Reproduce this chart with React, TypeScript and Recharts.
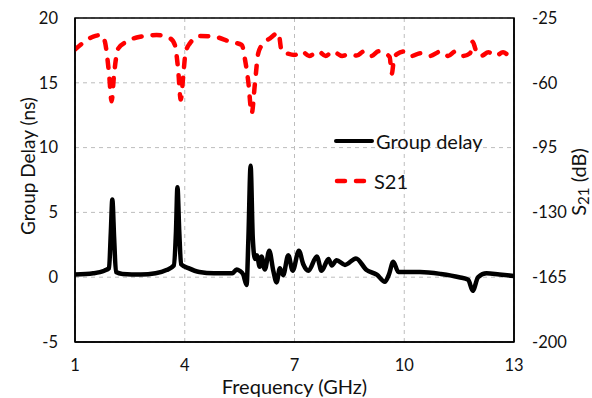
import {
  ComposedChart,
  Line,
  XAxis,
  YAxis,
  CartesianGrid,
  ReferenceArea,
} from 'recharts'

// ---- data ----
const freqTicks = [1, 4, 7, 10, 13]
const delayTicks = [-5, 0, 5, 10, 15, 20]
const s21Ticks = [-200, -165, -130, -95, -60, -25]

const delayFreq = [
  1.0, 1.5, 1.8, 1.93, 1.98, 2.02, 2.07, 2.12, 2.3, 2.8, 3.2, 3.5, 3.7, 3.76, 3.8, 3.85, 3.9, 4.1,
  4.4, 4.8, 5.3, 5.42, 5.5, 5.6, 5.69, 5.74, 5.8, 5.86, 5.92, 5.97, 6.05, 6.1, 6.19, 6.31, 6.42,
  6.51, 6.6, 6.69, 6.83, 6.95, 7.12, 7.24, 7.38, 7.61, 7.74, 7.93, 8.02, 8.15, 8.38, 8.68, 8.97,
  9.25, 9.47, 9.58, 9.7, 9.84, 10.43, 11.0, 11.5, 11.75, 11.87, 12.02, 12.25, 12.6, 13.0,
]
const delayNs = [
  0.2, 0.3, 0.5, 0.7, 3.5, 6.0, 3.0, 0.4, 0.25, 0.2, 0.3, 0.55, 0.9, 3.5, 6.95, 3.5, 1.0, 0.7,
  0.4, 0.3, 0.3, 0.6, 0.5, 0.2, -0.6, 3.0, 8.6, 3.0, 1.4, 1.7, 0.8, 1.6, 0.6, 2.05, 0.5,
  -0.4, 0.7, 0.15, 1.7, 0.5, 2.05, 1.0, 0.5, 1.6, 0.5, 1.4, 0.9, 1.3, 0.95, 1.45, 0.55,
  0.2, -0.35, 0.2, 1.2, 0.4, 0.4, 0.25, 0.0, -0.2, -1.05, 0.0, 0.3, 0.2, 0.1,
]

const s21Freq = [
  1.0, 1.25, 1.5, 1.73, 1.82, 1.93, 2.0, 2.07, 2.18, 2.41, 2.78, 3.23, 3.6, 3.73, 3.82, 3.89, 3.96,
  4.02, 4.14, 4.42, 4.78, 5.24, 5.56, 5.65, 5.74, 5.83, 5.92, 6.01, 6.15, 6.33, 6.56, 6.65, 6.79,
  7.0, 7.2, 7.4, 7.65, 7.85, 8.05, 8.3, 8.5, 8.7, 8.9, 9.1, 9.3, 9.5, 9.6, 9.66, 9.72, 9.8, 10.0,
  10.2, 10.45, 10.7, 11.0, 11.2, 11.4, 11.6, 11.8, 11.87, 11.95, 12.1, 12.3, 12.5, 12.7, 12.9, 13.0,
]
const s21Db = [
  -42, -38, -35, -34.2, -38, -55, -70, -55, -41.5, -37.8, -35.1, -34.2, -36, -39.6, -53, -69, -56,
  -44, -38.7, -34.7, -35, -37.8, -39.6, -47.7, -60, -76.5, -60, -44, -38.7, -36, -33, -43, -44.1,
  -45, -43, -45.5, -43, -45.5, -43, -45.5, -44.5, -45.3, -43, -45.5, -43, -44.5, -46, -55, -47, -44.5, -43,
  -45.5, -44, -45.5, -43, -45.5, -43, -45.5, -44, -37.8, -42, -45.5, -43.5, -45.5, -43.5, -45.5, -44,
]

const delayData = delayFreq.map((f, i) => ({ f, v: delayNs[i] }))
const s21Data = s21Freq.map((f, i) => ({ f, v: s21Db[i] }))

const FONT = 'Lato, "Open Sans", sans-serif'
const INK = '#111'
const tickStyle = { fontSize: 16.5, fill: INK, fontFamily: FONT }

const LeftTitle = () => (
  <text
    x={27}
    y={166}
    transform="rotate(-90, 27, 166)"
    textAnchor="middle"
    dominantBaseline="central"
    fontSize={19}
    fontFamily={FONT}
    fill={INK}
  >
    Group Delay (ns)
  </text>
)

const RightTitle = () => (
  <text
    x={578}
    y={182}
    transform="rotate(-90, 578, 182)"
    textAnchor="middle"
    dominantBaseline="central"
    fontSize={20}
    fontFamily={FONT}
    fill={INK}
  >
    S<tspan fontSize={15} dy={5}>21</tspan>
    <tspan dy={-5}> (dB)</tspan>
  </text>
)

function LegendBox() {
  return (
    <div
      style={{
        position: 'absolute',
        left: 334,
        top: 121,
        fontFamily: FONT,
        fontSize: 20,
        color: INK,
        lineHeight: '40px',
      }}
    >
      <div style={{ display: 'flex', alignItems: 'center' }}>
        <svg width={40} height={10}>
          <line x1={2} y1={5} x2={38} y2={5} stroke="#000" strokeWidth={4} strokeLinecap="round" />
        </svg>
        <span style={{ marginLeft: 2 }}>Group delay</span>
      </div>
      <div style={{ display: 'flex', alignItems: 'center' }}>
        <svg width={40} height={10}>
          <line
            x1={3}
            y1={5}
            x2={34}
            y2={5}
            stroke="#ff0000"
            strokeWidth={4.5}
            strokeDasharray="8 11"
            strokeLinecap="round"
          />
        </svg>
        <span>S21</span>
      </div>
    </div>
  )
}

export default function App() {
  return (
    <div style={{ position: 'absolute', left: 0, top: 0, width: 592, height: 398, background: '#fff' }}>
      <ComposedChart width={592} height={398} margin={{ top: 18, right: 18, bottom: 0, left: 15 }}>
        <CartesianGrid
          yAxisId="left"
          stroke="#bdbdbd"
          strokeDasharray="4 4"
          strokeWidth={1}
        />
        <XAxis
          dataKey="f"
          type="number"
          domain={[1, 13]}
          ticks={freqTicks}
          allowDataOverflow
          height={56}
          tickSize={0}
          tickMargin={17}
          tick={tickStyle}
          axisLine={{ stroke: '#000', strokeWidth: 1.5 }}
          label={{
            value: 'Frequency (GHz)',
            position: 'insideBottom',
            offset: 4,
            style: { fontSize: 20, fontFamily: FONT, fill: INK },
          }}
        />
        <YAxis
          yAxisId="left"
          dataKey="v"
          type="number"
          domain={[-5, 20]}
          ticks={delayTicks}
          allowDataOverflow
          width={60}
          tickSize={0}
          tickMargin={17}
          tick={tickStyle}
          axisLine={{ stroke: '#000', strokeWidth: 1.5 }}
          label={<LeftTitle />}
        />
        <YAxis
          yAxisId="right"
          orientation="right"
          dataKey="v"
          type="number"
          domain={[-200, -25]}
          ticks={s21Ticks}
          allowDataOverflow
          width={60}
          tickSize={0}
          tickMargin={18}
          tick={{ ...tickStyle, textAnchor: 'start' }}
          axisLine={{ stroke: '#000', strokeWidth: 1.5 }}
          label={<RightTitle />}
        />
        <ReferenceArea
          yAxisId="left"
          x1={1}
          x2={13}
          y1={-5}
          y2={20}
          fill="none"
          fillOpacity={0}
          stroke="#000"
          strokeWidth={1.5}
          ifOverflow="visible"
        />
        <Line
          yAxisId="right"
          data={s21Data}
          dataKey="v"
          name="S21"
          type="monotone"
          stroke="#ff0000"
          strokeWidth={4.5}
          strokeDasharray="8 11"
          strokeLinecap="round"
          dot={false}
          isAnimationActive={false}
        />
        <Line
          yAxisId="left"
          data={delayData}
          dataKey="v"
          name="Group delay"
          type="monotone"
          stroke="#000"
          strokeWidth={4.5}
          strokeLinejoin="round"
          dot={false}
          isAnimationActive={false}
        />
      </ComposedChart>
      <LegendBox />
    </div>
  )
}
